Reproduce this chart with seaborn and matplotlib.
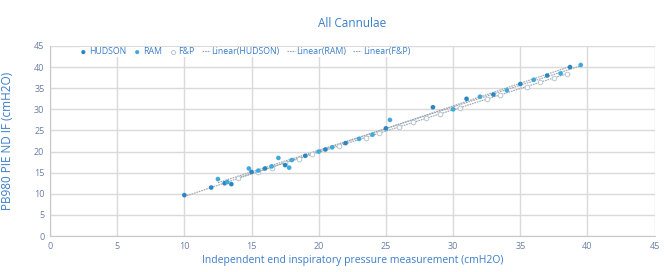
import numpy as np
import pandas as pd
import matplotlib
matplotlib.use("Agg")
import matplotlib.pyplot as plt
import seaborn as sns

hudson_x = [10, 12, 13, 13.5, 15, 16, 17.5, 19, 20.5, 22, 25, 28.5, 31, 33, 35, 37, 38.7]
hudson_y = [9.7, 11.5, 12.5, 12.3, 15.2, 16, 16.8, 19, 20.5, 22, 25.5, 30.5, 32.5, 33.5, 36, 38, 40]
ram_x = [12.5, 13.2, 14.8, 15.5, 16.5, 17, 17.8, 18, 20, 21, 23, 24, 25.3, 30, 32, 34, 36, 38, 39.5]
ram_y = [13.5, 12.8, 16, 15.5, 16.5, 18.5, 16.2, 18, 20, 21, 23, 24, 27.5, 30, 33, 34.5, 37, 38.5, 40.5]
fp_x = [14, 15.5, 16.5, 17.5, 18.5, 19.5, 21.5, 23.5, 24.5, 26, 27, 28, 29, 30.5, 32.5, 33.5, 35.5, 36.5, 37.5, 38.5]
fp_y = [13.8, 15.2, 16.2, 17.4, 18.3, 19.4, 21.4, 23.3, 24.4, 25.9, 26.9, 27.9, 28.9, 30.4, 32.4, 33.4, 35.4, 36.4, 37.5, 38.4]

ticks = list(range(0, 46, 5))

hudson = pd.DataFrame({"x": hudson_x, "y": hudson_y})
ram = pd.DataFrame({"x": ram_x, "y": ram_y})
fp = pd.DataFrame({"x": fp_x, "y": fp_y})

blue_txt = "#3a7dca"
sns.set_style("white")
plt.rcParams["font.family"] = ["Open Sans", "DejaVu Sans"]

fig = plt.figure(figsize=(6.66, 2.72), dpi=100)
ax = fig.add_axes([0.075, 0.132, 0.908, 0.699])

ax.grid(True, color="#dadada", linewidth=1.0)
ax.set_axisbelow(True)

sns.scatterplot(data=hudson, x="x", y="y", ax=ax, color="#2a86c4", s=11,
                edgecolor="none", label="HUDSON", zorder=3)
sns.scatterplot(data=ram, x="x", y="y", ax=ax, color="#3fa9dc", s=11,
                edgecolor="none", label="RAM", zorder=3)
sns.scatterplot(data=fp, x="x", y="y", ax=ax, facecolor="white", s=11,
                edgecolor="#b5c6d4", linewidth=0.7, label="F&P", zorder=2.5)

for df, name in [(hudson, "HUDSON"), (ram, "RAM"), (fp, "F&P")]:
    sns.regplot(data=df, x="x", y="y", ax=ax, scatter=False, ci=None, truncate=True,
                line_kws={"color": "#9aa4ad", "linewidth": 0.8, "linestyle": (0, (1.5, 0.8))},
                label="Linear(" + name + ")")

ax.set_xlim(0, 45)
ax.set_ylim(0, 45)
ax.set_xticks(ticks)
ax.set_yticks(ticks)
ax.tick_params(axis="both", labelsize=6.5, labelcolor="#6b7ea8", length=0, pad=4)
for side in ["top", "right"]:
    ax.spines[side].set_visible(False)
for side in ["left", "bottom"]:
    ax.spines[side].set_color("#c8c8c8")

ax.set_xlabel("Independent end inspiratory pressure measurement (cmH2O)",
              fontsize=7.5, color=blue_txt, labelpad=3)
ax.set_ylabel("PB980 PIE ND IF (cmH2O)", fontsize=8.5, color=blue_txt, labelpad=14)
ax.set_title("All Cannulae", fontsize=8.5, color=blue_txt, pad=14)

leg = ax.legend(loc="upper left", bbox_to_anchor=(0.04, 1.02), ncol=6, fontsize=6.3,
                frameon=True, facecolor="white", edgecolor="none", framealpha=1,
                handlelength=0.9, handletextpad=0.2, columnspacing=0.8,
                borderpad=0.1, markerscale=0.9)
for t in leg.get_texts():
    t.set_color(blue_txt)

fig.savefig("out.png", dpi=100)
